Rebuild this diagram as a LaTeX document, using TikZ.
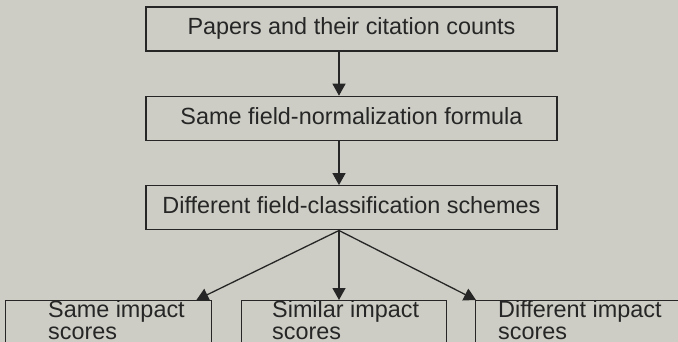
\documentclass[tikz,border=0pt]{standalone}
\usepackage{fontspec}
\setmainfont{Liberation Sans}
\usepackage{xcolor}
\usetikzlibrary{arrows.meta,positioning}

\definecolor{paper}{RGB}{205,205,197}
\definecolor{ink}{RGB}{38,38,38}

\begin{document}
\begin{tikzpicture}[
  x=1pt, y=-1pt,
  box/.style={rectangle, draw=ink, line width=1.4pt, text=ink,
              minimum width=411pt, minimum height=44pt, inner sep=0pt,
              font=\fontsize{23.4}{22}\selectfont, text height=17pt, text depth=5pt},
  outbox/.style={rectangle, draw=ink, line width=1.4pt, minimum height=60pt,
              inner sep=0pt, anchor=north west},
  outtxt/.style={text=ink, align=left, inner sep=0pt, anchor=base west,
              font=\fontsize{23.4}{22}\selectfont},
  arr/.style={-{Triangle[length=12pt,width=13pt]}, draw=ink, line width=1.3pt},
  node distance=44pt
]
  \useasboundingbox (0,0) rectangle (678,342);
  \fill[paper] (0,0) rectangle (678,342);
  \clip (0,0) rectangle (678,342);

  % main chain
  \node[box] (papers) at (351.5,29) {Papers and their citation counts};
  \node[box, below=of papers] (formula) {Same field-normalization formula};
  \node[box, below=of formula] (schemes) {Different field-classification schemes};

  % outcomes (cut off at the bottom)
  \node[outbox, minimum width=206pt] (same) at (5,300) {};
  \node[outbox, minimum width=205pt] (similar) at (241,300) {};
  \node[outbox, minimum width=215pt] (different) at (475,300) {};

  \node[outtxt] (sameTxt) at ([xshift=43pt,yshift=-39pt]same.north west) {Same impact\\scores};
  \node[outtxt] (similarTxt) at ([xshift=31pt,yshift=-39pt]similar.north west) {Similar impact\\scores};
  \node[outtxt] (differentTxt) at ([xshift=23pt,yshift=-39pt]different.north west) {Different impact\\scores};

  \coordinate (fork) at ([xshift=-12.5pt]schemes.south);

  \draw[arr] ([xshift=-12.5pt]papers.south) -- ([xshift=-12.5pt]formula.north);
  \draw[arr] ([xshift=-12.5pt]formula.south) -- ([xshift=-12.5pt]schemes.north);
  \draw[arr] (fork) -- ([xshift=-16pt]same.north east);
  \draw[arr] (fork) -- (fork |- similar.north);
  \draw[arr] (fork) -- ([xshift=1pt]different.north west);
\end{tikzpicture}
\end{document}
